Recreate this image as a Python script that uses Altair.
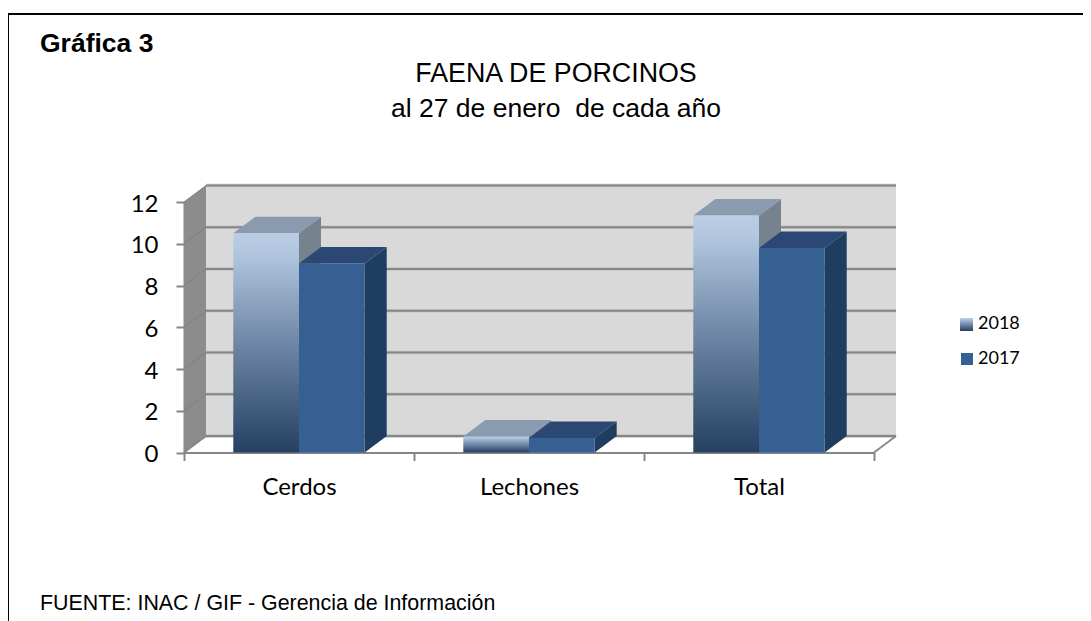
import altair as alt
import pandas as pd

categories = ["Cerdos", "Lechones", "Total"]
years = ["2018", "2017"]
v2018 = [10.5, 0.77, 11.35]
v2017 = [9.05, 0.7, 9.8]
y_ticks = [0, 2, 4, 6, 8, 10, 12]

# front plane of the 3D box in pixels of the plot area
PW, PH = 690, 250.5
# depth of the 3D box in data units (categories / value)
DX = 22 / 230
DY = 16.5 / (PH / 12)
BAR = 1 / 3.5
GAP = 0.75 * BAR

GRID = "#868686"
WALL = "#D9D9D9"
SIDE_WALL = "#8C8C8C"

GRAD_2018 = alt.LinearGradient(
    gradient="linear", x1=0, x2=0, y1=0, y2=1,
    stops=[
        alt.GradientStop(color="#B9CDE5", offset=0),
        alt.GradientStop(color="#B3C8E0", offset=0.08),
        alt.GradientStop(color="#6E87A6", offset=0.5),
        alt.GradientStop(color="#254061", offset=1),
    ],
)
FRONT_2017 = "#376092"

xs = alt.Scale(domain=[0, 3], nice=False, zero=False)
ys = alt.Scale(domain=[0, 12], nice=False, zero=False)

axis_style = dict(
    domainColor=GRID, domainWidth=2, tickColor=GRID, tickWidth=2, tickSize=8,
    labelFont="Lato", labelFontSize=24, labelColor="#000000", grid=False,
)
Y_AXIS = alt.Axis(values=y_ticks, labelPadding=18, labelOffset=2, format="d", **axis_style)


def x_q(field="x:Q"):
    return alt.X(field, scale=xs, axis=None)


def y_q(field="y:Q", **kw):
    return alt.Y(field, scale=ys, axis=Y_AXIS, title=None, **kw)


def box_faces(index, value, start, side, top):
    x0 = index + start
    x1 = x0 + BAR
    key = f"{index}-{start}"
    return [
        dict(k=key + "s", f=side, x=x1, y=0, y2=value),
        dict(k=key + "s", f=side, x=x1 + DX, y=DY, y2=value + DY),
        dict(k=key + "t", f=top, x=x0, y=value, y2=value),
        dict(k=key + "t", f=top, x=x0 + DX, y=value + DY, y2=value),
        dict(k=key + "t", f=top, x=x1, y=value + DY, y2=value),
        dict(k=key + "t", f=top, x=x1 + DX, y=value + DY, y2=value + DY),
    ]


def faces_layer(rows):
    return alt.Chart(pd.DataFrame(rows)).mark_area(interpolate="linear", strokeWidth=0).encode(
        x=x_q(),
        y=y_q(stack=None),
        y2="y2:Q",
        color=alt.Color("f:N", scale=None),
        detail="k:N",
    )


def segment_layer(rows, color, width):
    return alt.Chart(pd.DataFrame(rows)).mark_line(color=color, strokeWidth=width, interpolate="linear").encode(
        x=x_q(),
        y=y_q(),
        detail="k:N",
    )


def front_layer(rows, color):
    return alt.Chart(pd.DataFrame(rows)).mark_rect(color=color).encode(
        x=x_q(), x2="x2:Q",
        y=y_q(), y2="y2:Q",
    )


# walls
back_wall = front_layer([dict(x=DX, x2=3 + DX, y=DY, y2=12 + DY)], WALL)
side_wall = faces_layer([
    dict(k="w", f=SIDE_WALL, x=0, y=0, y2=12),
    dict(k="w", f=SIDE_WALL, x=DX, y=DY, y2=12 + DY),
])

# gridlines on the walls
grid_rows = []
for t in y_ticks:
    grid_rows += [dict(k=f"g{t}", x=DX, y=t + DY), dict(k=f"g{t}", x=3 + DX, y=t + DY)]
grid_halo = segment_layer(grid_rows, "#C4C4C4", 3.4)
grid = segment_layer(grid_rows, GRID, 1.8)

side_rows = []
for t in y_ticks[1:]:
    side_rows += [dict(k=f"s{t}", x=0, y=t), dict(k=f"s{t}", x=DX, y=t + DY)]
side_grid = segment_layer(side_rows, "#808080", 1)

floor_rows = [
    dict(k="a", x=0, y=0), dict(k="a", x=DX, y=DY),
    dict(k="b", x=3, y=0), dict(k="b", x=3 + DX, y=DY),
]
floor = segment_layer(floor_rows, GRID, 1.8)

# boxes
rows_2018, rows_2017 = [], []
fronts_2018, fronts_2017 = [], []
for i in range(len(categories)):
    rows_2018 += box_faces(i, v2018[i], GAP, "#76838F", "#8A9BB0")
    rows_2017 += box_faces(i, v2017[i], GAP + BAR, "#1F3D5F", "#2A4873")
    fronts_2018.append(dict(x=i + GAP, x2=i + GAP + BAR, y=0, y2=v2018[i]))
    fronts_2017.append(dict(x=i + GAP + BAR, x2=i + GAP + 2 * BAR, y=0, y2=v2017[i]))

# real x axis on its own band scale
x_axis = alt.Chart(pd.DataFrame({"c": categories})).mark_rule(opacity=0).encode(
    x=alt.X("c:N", sort=categories, title=None,
            scale=alt.Scale(paddingInner=0, paddingOuter=0),
            axis=alt.Axis(tickBand="extent", labelAngle=0, labelPadding=15, **axis_style)),
)

one = pd.DataFrame({"a": [0]})


def label(text, px, py, size, font="Liberation Sans", align="left", bold=False):
    return alt.Chart(one).mark_text(
        text=text, font=font, fontSize=size, align=align, baseline="middle",
        fontWeight="bold" if bold else "normal", color="#000000",
    ).encode(x=alt.value(px - 184), y=alt.value(py - 202))


def swatch(x0, y0, x1, y1, color):
    return alt.Chart(one).mark_rect(color=color).encode(
        x=alt.value(x0 - 184), x2=alt.value(x1 - 184),
        y=alt.value(y0 - 202), y2=alt.value(y1 - 202),
    )


frame = alt.Chart(one).mark_rect(fillOpacity=0, stroke="#000000", strokeWidth=2).encode(
    x=alt.value(8 - 184), x2=alt.value(1200 - 184),
    y=alt.value(14 - 202), y2=alt.value(700 - 202),
)

chart = alt.layer(
    frame,
    back_wall,
    grid_halo,
    grid,
    side_wall,
    side_grid,
    floor,
    faces_layer(rows_2018),
    front_layer(fronts_2018, GRAD_2018),
    faces_layer(rows_2017),
    front_layer(fronts_2017, FRONT_2017),
    x_axis,
    label("Gráfica 3", 40, 44, 26.5, bold=True),
    label("FAENA DE PORCINOS", 556, 74, 26.8, align="center"),
    label("al 27 de enero \u00a0de cada año", 556, 109, 26.5, align="center"),
    label("FUENTE: INAC / GIF - Gerencia de Información", 40, 604, 21.4),
    swatch(960, 318, 973, 331, GRAD_2018),
    swatch(961, 353, 973, 365, FRONT_2017),
    label(years[0], 978, 324, 18, font="Lato"),
    label(years[1], 978, 359, 18, font="Lato"),
).resolve_scale(x="independent").properties(
    width=PW, height=PH,
    padding={"left": 176, "top": 194, "right": 209, "bottom": 168.5},
    autosize=alt.AutoSizeParams(type="none"),
    background="#FFFFFF",
).configure_view(stroke=None)

chart.save("out.html", embed_options={"renderer": "svg", "actions": False})
